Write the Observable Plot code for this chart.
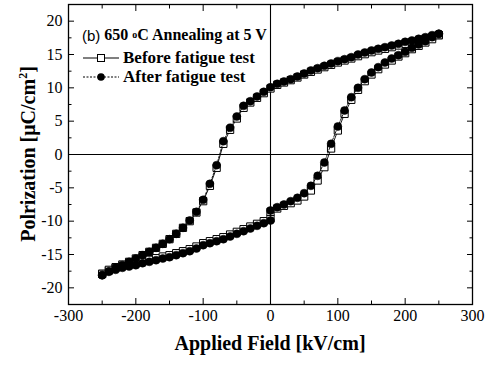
<!DOCTYPE html>
<html><head><meta charset="utf-8">
<script src="https://cdn.jsdelivr.net/npm/d3@7"></script>
<script src="https://cdn.jsdelivr.net/npm/@observablehq/plot@0.6"></script>
<style>
body{margin:0;background:#fff;}
#wrap{position:relative;width:489px;height:365px;font-family:"Liberation Serif","Times New Roman",serif;color:#000;}
#wrap svg{position:absolute;left:0;top:0;}
#wrap svg text{font-family:"Liberation Serif","Times New Roman",serif !important;}
.ov{position:absolute;white-space:nowrap;line-height:1;font-family:"Liberation Serif","Times New Roman",serif;}
.xt{left:0;width:540px;top:333px;text-align:center;font-weight:bold;font-size:20px;}
.yt{left:27px;top:154px;transform:translate(-50%,-50%) rotate(-90deg);font-weight:bold;font-size:20px;}
.lg{left:82px;font-size:17px;font-weight:bold;display:flex;align-items:center;}
.lg svg{position:static !important;margin-right:3px;}
</style></head><body><div id="wrap"></div>
<script>
// Applied field (kV/cm), descending (upper) branch and ascending (lower) branch
const upperField = [250,240,230,220,210,200,190,180,170,160,150,140,130,120,110,100,90,80,70,60,50,40,30,20,10,0,-10,-20,-30,-40,-50,-60,-70,-80,-90,-100,-110,-120,-130,-140,-150,-160,-170,-180,-190,-200,-210,-220,-230,-240,-250];
const lowerField = [-250,-240,-230,-220,-210,-200,-190,-180,-170,-160,-150,-140,-130,-120,-110,-100,-90,-80,-70,-60,-50,-40,-30,-20,-10,0,0,10,20,30,40,50,60,70,80,90,100,110,120,130,140,150,160,170,180,190,200,210,220,230,240,250];
// Polarization (µC/cm²)
const beforeUpper = [17.9,17.6,17.35,17.1,16.85,16.6,16.35,16.1,15.85,15.6,15.35,15.05,14.75,14.4,14.1,13.8,13.45,13.1,12.75,12.4,12.0,11.55,11.15,10.8,10.45,9.9,9.2,8.5,7.8,7.0,5.4,3.7,1.6,-2.0,-4.7,-7.0,-8.7,-10.0,-11.0,-11.9,-12.7,-13.4,-14.0,-14.6,-15.1,-15.6,-16.1,-16.5,-16.9,-17.4,-17.9];
const beforeLower = [-17.9,-17.3,-17.0,-16.7,-16.5,-16.3,-16.0,-15.8,-15.55,-15.3,-15.1,-14.8,-14.5,-14.2,-13.8,-13.3,-13.0,-12.7,-12.4,-12.0,-11.6,-11.2,-10.8,-10.4,-10.0,-9.6,-8.6,-8.1,-7.7,-7.3,-6.9,-6.3,-5.4,-3.9,-1.9,0.9,3.6,6.1,8.2,9.7,11.0,12.0,12.8,13.5,14.1,14.7,15.2,15.8,16.3,16.8,17.3,17.9];
const afterUpper = [18.1,17.9,17.6,17.35,17.1,16.9,16.6,16.35,16.1,15.85,15.6,15.3,15.0,14.6,14.3,14.0,13.65,13.3,12.95,12.6,12.15,11.7,11.3,10.95,10.6,10.1,9.4,8.7,8.0,7.3,5.7,4.0,2.0,-1.6,-4.4,-6.8,-8.6,-9.9,-11.0,-11.9,-12.7,-13.4,-14.0,-14.6,-15.1,-15.6,-16.1,-16.6,-17.0,-17.5,-18.1];
const afterLower = [-18.1,-17.6,-17.3,-17.0,-16.8,-16.6,-16.3,-16.1,-15.85,-15.6,-15.4,-15.1,-14.8,-14.5,-14.1,-13.6,-13.3,-13.0,-12.7,-12.3,-11.9,-11.5,-11.1,-10.7,-10.3,-9.9,-8.4,-7.9,-7.5,-7.0,-6.5,-5.8,-4.7,-3.2,-1.2,1.6,4.2,6.6,8.6,10.0,11.3,12.3,13.1,13.8,14.4,14.9,15.4,16.0,16.5,17.0,17.6,18.1];
// Tick values
const xMajor = [-300,-200,-100,0,100,200,300];
const xMinor = [-250,-150,-50,50,150,250];
const yMajor = [-20,-15,-10,-5,0,5,10,15,20];
const yMinor = [-22.5,-17.5,-12.5,-7.5,-2.5,2.5,7.5,12.5,17.5,22.5];

const loop = (ys1, ys2) => [
  ...upperField.map((x,i)=>({x, y: ys1[i]})),
  ...lowerField.map((x,i)=>({x, y: ys2[i]}))
];
const before = loop(beforeUpper, beforeLower);
const after = loop(afterUpper, afterLower);
const blank = () => "";
const plain = d => String(d);

const chart = Plot.plot({
  width: 489, height: 365,
  marginLeft: 68, marginRight: 17, marginTop: 4, marginBottom: 61,
  style: {fontFamily: "Liberation Serif, serif", fontSize: "15px", color: "#000", background: "#fff"},
  x: {domain: [-300, 300]},
  y: {domain: [-22.5, 22.5]},
  marks: [
    Plot.ruleY([0], {stroke: "#000", strokeWidth: 1.1}),
    Plot.ruleX([0], {stroke: "#000", strokeWidth: 1.1}),
    Plot.line(before, {x: "x", y: "y", stroke: "#000", strokeWidth: 0.9}),
    Plot.dot(before, {x: "x", y: "y", symbol: "square", r: 4.1, fill: "#fff", stroke: "#000", strokeWidth: 1}),
    Plot.line(after, {x: "x", y: "y", stroke: "#000", strokeWidth: 0.9, strokeDasharray: "2,1.5"}),
    Plot.dot(after, {x: "x", y: "y", symbol: "circle", r: 4, fill: "#000", stroke: "#000", strokeWidth: 0.5}),
    // inward ticks on all sides
    Plot.axisX(xMajor, {anchor: "bottom", tickSize: -6, tickFormat: blank, label: null}),
    Plot.axisX(xMinor, {anchor: "bottom", tickSize: -3.5, tickFormat: blank, label: null}),
    Plot.axisX(xMajor, {anchor: "top", tickSize: -6, tickFormat: blank, label: null}),
    Plot.axisX(xMinor, {anchor: "top", tickSize: -3.5, tickFormat: blank, label: null}),
    Plot.axisY(yMajor, {anchor: "left", tickSize: -6, tickFormat: blank, label: null}),
    Plot.axisY(yMinor, {anchor: "left", tickSize: -3.5, tickFormat: blank, label: null}),
    Plot.axisY(yMajor, {anchor: "right", tickSize: -6, tickFormat: blank, label: null}),
    Plot.axisY(yMinor, {anchor: "right", tickSize: -3.5, tickFormat: blank, label: null}),
    // tick labels
    Plot.axisX(xMajor, {anchor: "bottom", tickSize: 0, tickPadding: 5, label: null, fontSize: 16, tickFormat: plain}),
    Plot.axisY(yMajor, {anchor: "left", tickSize: 0, tickPadding: 6, label: null, fontSize: 16, tickFormat: plain}),
    Plot.frame({stroke: "#000", strokeWidth: 1.3})
  ]
});
const wrap = document.getElementById("wrap");
wrap.appendChild(chart);

function ov(cls, html, top, size) {
  const d = document.createElement("div");
  d.className = "ov " + cls;
  d.innerHTML = html;
  if (top !== undefined) d.style.top = top + "px";
  if (size !== undefined) d.style.fontSize = size + "px";
  wrap.appendChild(d);
}
ov("xt", "Applied Field [kV/cm]");
ov("yt", "Polrization [μC/cm<sup style='font-size:12px;vertical-align:8px'>2</sup>]");
ov("lg", "<span style='font-family:\"Liberation Sans\",sans-serif;font-weight:normal;font-size:15px'>(b)</span>&nbsp;650&nbsp;<sup style='font-size:10px;vertical-align:6px'>o</sup>C Annealing at 5 V", 27, 16);
ov("lg", "<svg width='38' height='12'><line x1='1' x2='37' y1='6' y2='6' stroke='#000' stroke-width='1'/><rect x='15.5' y='2.5' width='7' height='7' fill='#fff' stroke='#000'/></svg>Before fatigue test", 49);
ov("lg", "<svg width='38' height='12'><line x1='1' x2='37' y1='6' y2='6' stroke='#000' stroke-width='1' stroke-dasharray='2,1.5'/><circle cx='19' cy='6' r='3.8' fill='#000'/></svg>After fatigue test", 68);
</script>
</body></html>
